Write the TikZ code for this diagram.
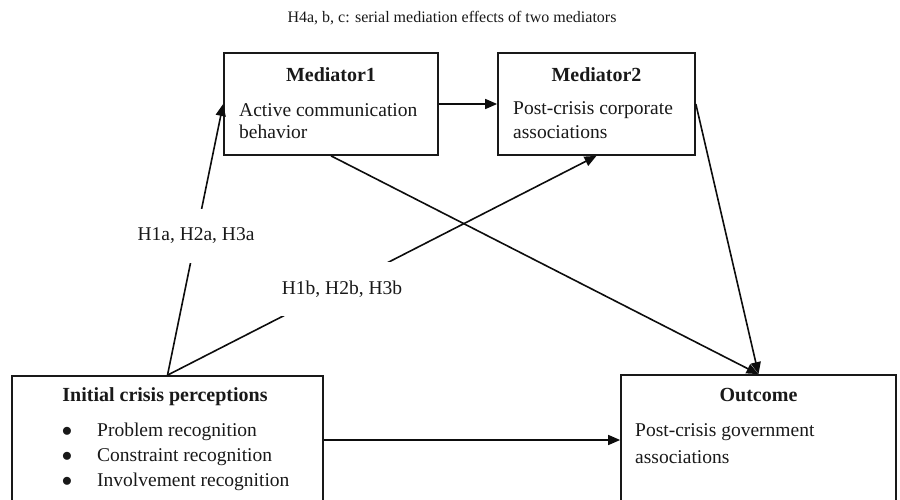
\documentclass[tikz,border=0pt]{standalone}
\usepackage{fontspec}
\setmainfont{Liberation Serif}
\usetikzlibrary{arrows.meta}
\begin{document}
\begin{tikzpicture}[x=1pt,y=-1pt,
  box/.style={draw=black!90, line width=1.7pt, inner sep=0pt},
  txt/.style={inner sep=0pt, font=\fontsize{19.5}{22}\selectfont, text=black!90},
  bold/.style={inner sep=0pt, font=\fontsize{20}{22}\selectfont\bfseries, text=black!90},
  conn/.style={line width=1.6pt, draw=black!95, -{Triangle[length=12pt,width=10pt]}},
  lab/.style={fill=white, inner xsep=3pt, inner ysep=19pt, font=\fontsize{19.5}{22}\selectfont, text=black!90}]
\useasboundingbox (0,0) rectangle (900,500);
\clip (0,0) rectangle (900,500);
% title
\node[inner sep=0pt, font=\fontsize{16}{18}\selectfont, text=black!90] (title) at (452,18) {H4a, b, c: serial mediation effects of two mediators};
% boxes
\node[box, minimum width=214pt, minimum height=102pt] (m1) at (331,104) {};
\node[box, minimum width=197pt, minimum height=102pt] (m2) at (596.5,104) {};
\node[box, minimum width=311pt, minimum height=128pt] (ini) at (167.5,440) {};
\node[box, minimum width=275pt, minimum height=130pt] (out) at (758.5,440) {};
% texts
\node[bold] (m1t) at (331,75) {Mediator1};
\node[txt, anchor=west] (m1a) at (239,110) {Active communication};
\node[txt, anchor=west] (m1b) at (239,132) {behavior};
\node[bold] (m2t) at (596.5,75) {Mediator2};
\node[txt, anchor=west] (m2a) at (513,110) {Post-crisis corporate};
\node[txt, anchor=west] (m2b) at (513,132) {associations};
\node[bold] (init) at (165,397) {Initial crisis perceptions};
\node[txt] (b1) at (67,432) {$\bullet$};
\node[txt] (b2) at (67,457) {$\bullet$};
\node[txt] (b3) at (67,482) {$\bullet$};
\node[txt, anchor=west] (i1) at (97,432) {Problem recognition};
\node[txt, anchor=west] (i2) at (97,457) {Constraint recognition};
\node[txt, anchor=west] (i3) at (97,482) {Involvement recognition};
\node[bold] (outt) at (758.5,395) {Outcome};
\node[txt, anchor=west] (o1) at (635,432) {Post-crisis government};
\node[txt, anchor=west] (o2) at (635,457) {associations};
% connectors
\draw[conn] (m1.east) -- (m2.west);
\draw[conn] (ini.north) -- (m1.west);
\draw[conn] (ini.north) -- (m2.south);
\draw[conn] (m1.south) -- (out.north);
\draw[conn] (m2.east) -- (out.north);
\draw[conn] (ini.east) -- (out.west);
% labels
\node[lab] (h1a) at (196,236) {H1a, H2a, H3a};
\node[lab, inner xsep=8pt] (h1b) at (342,289) {\raisebox{3pt}{H1b, H2b, H3b}};
\end{tikzpicture}
\end{document}
